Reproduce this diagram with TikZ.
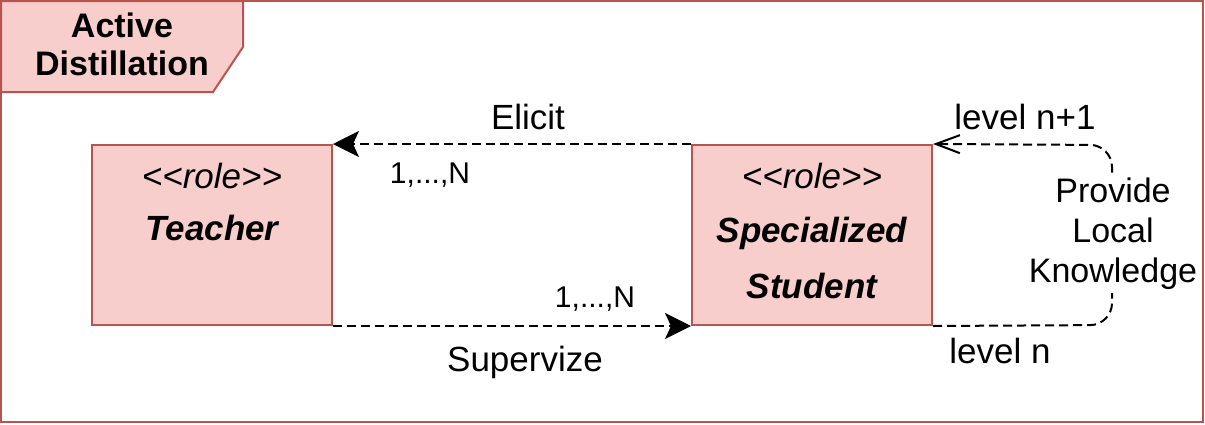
\documentclass[tikz,border=0pt]{standalone}
\usepackage{fontspec}
\setmainfont{Liberation Sans}[Ligatures=TeXOff]
\usetikzlibrary{arrows.meta}
\definecolor{roleFill}{HTML}{F8CECC}
\definecolor{roleLine}{HTML}{B85450}
\newcommand{\stereo}[1]{<\kern0pt<#1>\kern0pt>}
\begin{document}
\begin{tikzpicture}[x=0.5pt,y=-0.5pt,
rolebox/.style={draw=roleLine, fill=roleFill, line width=1pt, minimum width=120pt, minimum height=90pt, inner sep=0pt},
txt/.style={font=\fontsize{17.5}{20}\selectfont, inner sep=0pt, align=center, anchor=base},
counttxt/.style={font=\fontsize{15}{18}\selectfont, inner sep=0pt, anchor=base},
flow/.style={line width=1pt, dash pattern=on 4.5pt off 2.5pt},
solid head/.style={-{Stealth[length=13pt,width=13pt,inset=3pt]}}]
    \useasboundingbox (0,0) rectangle (1205,424);
    \draw [roleLine, line width=1pt, fill=white] (1,1) rectangle (1203,422);
    \draw [roleLine, line width=1pt, fill=roleFill] (1,1) -- (243,1) -- (243,47) -- (213,92) -- (1,92) -- cycle;
    \node [txt, font=\fontsize{17}{19}\selectfont\bfseries] (title) at (122,75) {Active\\Distillation};

    \node [rolebox] (teacher) at (212,235) {};
    \node [rolebox] (student) at (812,235) {};
    \node [txt, font=\fontsize{17.5}{20}\selectfont\itshape] (teacherrole) at (212,188) {\stereo{role}};
    \node [txt, font=\fontsize{17.5}{20}\selectfont\bfseries\itshape] (teachername) at (212,240) {Teacher};
    \node [txt, font=\fontsize{17.5}{20}\selectfont\itshape] (studentrole) at (812,188) {\stereo{role}};
    \node [txt, font=\fontsize{17.5}{28}\selectfont\bfseries\itshape] (studentname) at (812,298) {Specialized\\Student};

    \draw [flow, solid head] (student.north west) -- (teacher.north east);
    \draw [flow, solid head] (teacher.south east) -- (student.south west);
    \node [txt] (elicit) at (528,129) {Elicit};
    \node [counttxt] (elicitcount) at (430,183) {1,...,N};
    \node [counttxt] (supervizecount) at (595,307) {1,...,N};
    \node [txt] (supervize) at (525,371) {Supervize};

    \coordinate (loopbot) at (1112,325);
    \coordinate (looptop) at (1112,145);
    \draw [flow, rounded corners=11pt, -{Straight Barb[length=12pt,width=9pt]}] (student.south east) -- (loopbot) -- (looptop) -- (student.north east);
    \node [txt, font=\fontsize{17}{20}\selectfont, fill=white, inner sep=2pt] (provide) at (1113,282) {Provide\\Local\\Knowledge};
    \node [txt] (upper) at (1025,129) {level n+1};
    \node [txt] (lower) at (1000,363) {level n};
\end{tikzpicture}
\end{document}
